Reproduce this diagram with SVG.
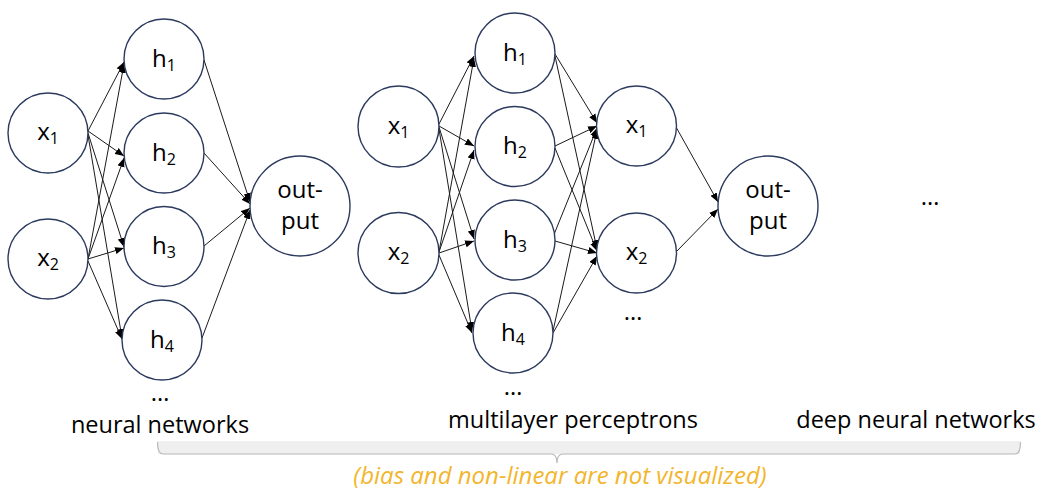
<svg xmlns="http://www.w3.org/2000/svg" width="1052" height="496" viewBox="0 0 1052 496">
<style>
.node circle{fill:#ffffff;stroke:#2b3a5e;stroke-width:1.4}
.lbl{font-family:"Open Sans","Liberation Sans",sans-serif;font-size:24px;fill:#000;text-anchor:middle}
.sub{font-size:16px}
.cap{font-family:"Open Sans","Liberation Sans",sans-serif;font-size:23.5px;fill:#000;text-anchor:middle}
.note{font-family:"Open Sans","Liberation Sans",sans-serif;font-size:24px;font-style:italic;fill:#f3b52c;text-anchor:middle}
.conn line{stroke:#1a1a1a;stroke-width:1;marker-end:url(#arr)}
</style>
<defs>
<marker id="arr" viewBox="0 0 10 8" refX="10" refY="4" markerWidth="9" markerHeight="7.5" markerUnits="userSpaceOnUse" orient="auto">
<path d="M0,0 L10,4 L0,8 z" fill="#000"/>
</marker>
</defs>
<rect width="1052" height="496" fill="#ffffff"/>

<g id="connectors" class="conn">
<line x1="88" y1="131" x2="124" y2="62"/>
<line x1="88" y1="131" x2="124" y2="156"/>
<line x1="88" y1="133" x2="124" y2="247"/>
<line x1="88" y1="135" x2="122" y2="338"/>
<line x1="88" y1="259" x2="124" y2="64"/>
<line x1="88" y1="259" x2="124" y2="158"/>
<line x1="88" y1="259" x2="124" y2="248"/>
<line x1="88" y1="261" x2="122" y2="339"/>
<line x1="204" y1="60" x2="250" y2="202"/>
<line x1="204" y1="153" x2="250" y2="204"/>
<line x1="204" y1="246" x2="250" y2="208"/>
<line x1="202" y1="338" x2="250" y2="210"/>
<line x1="439" y1="124" x2="474" y2="56"/>
<line x1="439" y1="126" x2="474" y2="146"/>
<line x1="439" y1="127" x2="474" y2="239"/>
<line x1="439" y1="129" x2="472" y2="331"/>
<line x1="439" y1="252" x2="474" y2="58"/>
<line x1="439" y1="252" x2="474" y2="150"/>
<line x1="439" y1="253" x2="474" y2="241"/>
<line x1="439" y1="255" x2="472" y2="333"/>
<line x1="555" y1="54" x2="597" y2="123"/>
<line x1="555" y1="146" x2="597" y2="126"/>
<line x1="553" y1="237" x2="597" y2="128"/>
<line x1="553" y1="331" x2="597" y2="130"/>
<line x1="555" y1="56" x2="597" y2="249"/>
<line x1="555" y1="148" x2="597" y2="251"/>
<line x1="555" y1="241" x2="597" y2="253"/>
<line x1="553" y1="333" x2="597" y2="256"/>
<line x1="676" y1="127" x2="718" y2="202"/>
<line x1="676" y1="252" x2="718" y2="209"/>
</g>

<g id="nn-x1" class="node"><circle cx="48" cy="133" r="40"/><text class="lbl" x="48" y="140">x<tspan class="sub" dy="4">1</tspan></text></g>
<g id="nn-x2" class="node"><circle cx="48" cy="259" r="40"/><text class="lbl" x="48" y="266">x<tspan class="sub" dy="4">2</tspan></text></g>
<g id="nn-h1" class="node"><circle cx="164" cy="59" r="40"/><text class="lbl" x="164" y="67">h<tspan class="sub" dy="4">1</tspan></text></g>
<g id="nn-h2" class="node"><circle cx="164" cy="153" r="40"/><text class="lbl" x="164" y="161">h<tspan class="sub" dy="4">2</tspan></text></g>
<g id="nn-h3" class="node"><circle cx="164" cy="246.5" r="40"/><text class="lbl" x="164" y="254">h<tspan class="sub" dy="4">3</tspan></text></g>
<g id="nn-h4" class="node"><circle cx="162" cy="340" r="40"/><text class="lbl" x="162" y="348">h<tspan class="sub" dy="4">4</tspan></text></g>
<g id="nn-out" class="node"><circle cx="300" cy="206" r="50"/><text class="lbl" x="300" y="198">out-</text><text class="lbl" x="300" y="229">put</text></g>
<g id="nn-more"><text class="lbl" x="160" y="401">…</text></g>
<g id="nn-caption"><text class="cap" x="160" y="433">neural networks</text></g>

<g id="mlp-x1" class="node"><circle cx="398.5" cy="126.5" r="40.5"/><text class="lbl" x="398.5" y="134">x<tspan class="sub" dy="4">1</tspan></text></g>
<g id="mlp-x2" class="node"><circle cx="398.5" cy="253" r="40.5"/><text class="lbl" x="398.5" y="260">x<tspan class="sub" dy="4">2</tspan></text></g>
<g id="mlp-h1" class="node"><circle cx="515" cy="53" r="40"/><text class="lbl" x="515" y="61">h<tspan class="sub" dy="4">1</tspan></text></g>
<g id="mlp-h2" class="node"><circle cx="515" cy="146.5" r="40"/><text class="lbl" x="515" y="154">h<tspan class="sub" dy="4">2</tspan></text></g>
<g id="mlp-h3" class="node"><circle cx="515" cy="240" r="40"/><text class="lbl" x="515" y="248">h<tspan class="sub" dy="4">3</tspan></text></g>
<g id="mlp-h4" class="node"><circle cx="513" cy="333" r="40"/><text class="lbl" x="513" y="341">h<tspan class="sub" dy="4">4</tspan></text></g>
<g id="mlp-y1" class="node"><circle cx="636.5" cy="126" r="40"/><text class="lbl" x="636.5" y="133">x<tspan class="sub" dy="4">1</tspan></text></g>
<g id="mlp-y2" class="node"><circle cx="636.5" cy="253" r="40"/><text class="lbl" x="636.5" y="260">x<tspan class="sub" dy="4">2</tspan></text></g>
<g id="mlp-out" class="node"><circle cx="768" cy="206" r="50"/><text class="lbl" x="768" y="198">out-</text><text class="lbl" x="768" y="229">put</text></g>
<g id="mlp-more-h"><text class="lbl" x="513" y="395">…</text></g>
<g id="mlp-more-y"><text class="lbl" x="633" y="320">…</text></g>
<g id="mlp-caption"><text class="cap" x="573" y="428">multilayer perceptrons</text></g>

<g id="dnn-more"><text class="lbl" x="930" y="205">…</text></g>
<g id="dnn-caption"><text class="cap" x="916" y="428">deep neural networks</text></g>

<g id="brace">
<rect x="158" y="441" width="862" height="13" fill="#efefef"/>
<path d="M157.5,442 Q157.5,454 163,454 L551,454 Q557,454 557,463 Q557,454 563,454 L1015,454 Q1020.5,454 1020.5,442" fill="none" stroke="#b8b8b8" stroke-width="1.2"/>
</g>
<g id="note"><text class="note" x="560" y="484">(bias and non-linear are not visualized)</text></g>
</svg>
